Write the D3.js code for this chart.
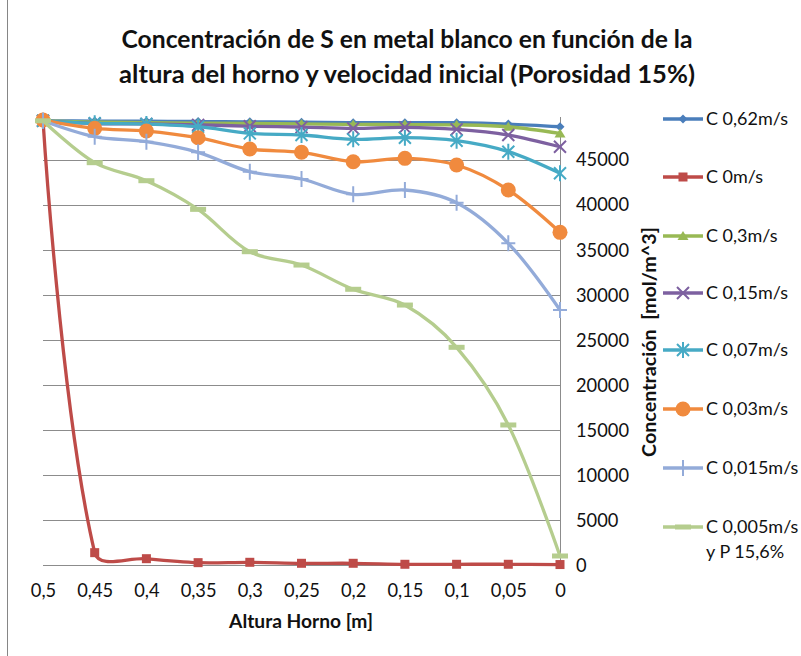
<!DOCTYPE html>
<html>
<head>
<meta charset="utf-8">
<script src="https://cdn.jsdelivr.net/npm/d3@7"></script>
<style>
  html, body { margin: 0; padding: 0; background: #fff; }
  svg { display: block; }
  text { font-family: Lato, "Open Sans", sans-serif; fill: #111; }
</style>
</head>
<body>
<svg id="chart" width="801" height="656"></svg>
<script>
// Heights along the furnace (category axis, left to right)
const heights = ["0,5", "0,45", "0,4", "0,35", "0,3", "0,25", "0,2", "0,15", "0,1", "0,05", "0"];

// Concentration of S [mol/m^3] for each initial velocity
const c062  = [49300, 49270, 49250, 49220, 49180, 49150, 49090, 49090, 49090, 48940, 48640];
const c0    = [49400, 1370, 700, 260, 300, 190, 190, 80, 80, 80, 50];
const c03   = [49300, 49150, 49100, 49050, 49000, 48950, 48900, 48880, 48850, 48640, 47900];
const c015  = [49300, 49000, 48950, 48850, 48700, 48600, 48460, 48570, 48350, 47720, 46420];
const c007  = [49300, 49020, 48940, 48640, 47900, 47720, 47240, 47420, 47090, 45870, 43470];
const c003  = [49380, 48460, 48160, 47420, 46170, 45800, 44760, 45130, 44390, 41620, 36920];
const c0015 = [49300, 47530, 46980, 45800, 43650, 42840, 41140, 41620, 40210, 35700, 28300];
const c0005 = [49300, 44650, 42650, 39470, 34770, 33290, 30600, 28850, 24160, 15540, 1000];

const seriesNames = ["C 0,62m/s", "C 0m/s", "C 0,3m/s", "C 0,15m/s", "C 0,07m/s", "C 0,03m/s", "C 0,015m/s", "C 0,005m/s\ny P 15,6%"];
const seriesValues = [c062, c0, c03, c015, c007, c003, c0015, c0005];
const seriesColors = ["#4A7EBB", "#BE4B48", "#98B954", "#7D60A0", "#46AAC5", "#F08A3E", "#93ABD9", "#B5CD8E"];
const seriesMarkers = ["diamond", "square", "triangle", "x", "asterisk", "circle", "plus", "dash"];

const yTicks = [0, 5000, 10000, 15000, 20000, 25000, 30000, 35000, 40000, 45000];

const titleLines = ["Concentración de S en metal blanco en función de la",
                    "altura del horno y velocidad inicial (Porosidad 15%)"];
const xTitle = "Altura Horno [m]";
const yTitle = "Concentración  [mol/m^3]";

const svg = d3.select("#chart");

// Scale a text element's font size so its rendered width equals `w`
function fitWidth(sel, w) {
  const node = sel.node();
  const fs = parseFloat(sel.attr("font-size"));
  const len = node.getComputedTextLength();
  sel.attr("font-size", (fs * w / len).toFixed(2));
}

// Outer frame (left edge of the chart area)
svg.append("line").attr("x1", 7.5).attr("x2", 7.5).attr("y1", 0).attr("y2", 656)
  .attr("stroke", "#868686").attr("stroke-width", 1);

const plot = { left: 43, right: 560, top: 117, bottom: 565 };

const x = d3.scalePoint().domain(heights).range([plot.left, plot.right]);
const y = d3.scaleLinear().domain([0, 49720]).range([plot.bottom, plot.top]);

// Gridlines
svg.append("g").selectAll("line").data(yTicks).join("line")
  .attr("x1", plot.left).attr("x2", plot.right)
  .attr("y1", d => Math.round(y(d)) + 0.5).attr("y2", d => Math.round(y(d)) + 0.5)
  .attr("stroke", "#8C8C8C").attr("stroke-width", 1);

// Right value axis line
svg.append("line").attr("x1", plot.right + 0.5).attr("x2", plot.right + 0.5)
  .attr("y1", plot.top).attr("y2", plot.bottom + 0.5)
  .attr("stroke", "#8C8C8C");

// Size of tick-label font, derived from the width of a reference label
const probe = svg.append("text").attr("font-size", 16).text("45000");
fitWidth(probe, 53);
const tickFs = +probe.attr("font-size");
probe.remove();

// Value axis labels (right side)
const yAxis = d3.axisRight(y).tickValues(yTicks).tickSize(0).tickPadding(0)
  .tickFormat(d3.format("d"));
const yg = svg.append("g").attr("transform", `translate(${plot.right + 16},0)`).call(yAxis);
yg.select(".domain").remove();
yg.selectAll("text").attr("font-size", tickFs).attr("fill", "#1a1a1a")
  .attr("font-family", "Lato, sans-serif").attr("dy", "0.35em");

// Category axis labels
const xAxis = d3.axisBottom(x).tickSize(0).tickPadding(0);
const xg = svg.append("g").attr("transform", `translate(0,${plot.bottom + 19})`).call(xAxis);
xg.select(".domain").remove();
xg.selectAll("text").attr("font-size", tickFs).attr("fill", "#1a1a1a")
  .attr("font-family", "Lato, sans-serif").attr("dy", "0.7em");

// Titles
titleLines.forEach((t, i) => {
  const el = svg.append("text").attr("x", 407).attr("y", 48 + i * 35).attr("text-anchor", "middle")
    .attr("font-weight", "bold").attr("font-size", 24).attr("fill", "#000").text(t);
  fitWidth(el, i === 0 ? 571 : 576);
});

const xt = svg.append("text").attr("x", 301).attr("y", 628).attr("text-anchor", "middle")
  .attr("font-weight", "bold").attr("font-size", 15).attr("fill", "#000").text(xTitle);
fitWidth(xt, 144);

const yt = svg.append("text").attr("transform", "translate(656,342) rotate(-90)")
  .attr("text-anchor", "middle").attr("font-weight", "bold").attr("font-size", 15)
  .attr("fill", "#000").style("white-space", "pre").text(yTitle);
fitWidth(yt, 230);

// Marker drawing
function drawMarker(g, type, color, cx, cy) {
  const m = g.append("g").attr("transform", `translate(${cx},${cy})`);
  switch (type) {
    case "diamond":
      m.append("path").attr("d", "M0,-4.5L4.5,0L0,4.5L-4.5,0Z").attr("fill", color);
      break;
    case "square":
      m.append("rect").attr("x", -4.5).attr("y", -4.5).attr("width", 9).attr("height", 9).attr("fill", color);
      break;
    case "triangle":
      m.append("path").attr("d", "M0,-5L5.5,4L-5.5,4Z").attr("fill", color);
      break;
    case "x":
      m.append("path").attr("d", "M-6,-6L6,6M-6,6L6,-6").attr("stroke", color).attr("stroke-width", 2).attr("fill", "none");
      break;
    case "asterisk":
      m.append("path").attr("d", "M-6,-6L6,6M-6,6L6,-6M0,-8L0,8").attr("stroke", color).attr("stroke-width", 2).attr("fill", "none");
      break;
    case "circle":
      m.append("circle").attr("r", 7.5).attr("fill", color);
      break;
    case "plus":
      m.append("path").attr("d", "M0,-8L0,8M-7,0L7,0").attr("stroke", color).attr("stroke-width", 2).attr("fill", "none");
      break;
    case "dash":
      m.append("rect").attr("x", -8).attr("y", -2.5).attr("width", 16).attr("height", 5).attr("fill", color);
      break;
  }
}

// Smoothed line: cubic Bezier segments whose control points follow the
// neighbour tangent, split in proportion to the adjacent segment lengths.
function smoothPath(pts, f = 1 / 3) {
  const n = pts.length;
  const dist = (a, b) => Math.hypot(b[0] - a[0], b[1] - a[1]);
  const cin = [], cout = [];
  for (let i = 0; i < n; i++) {
    if (i === 0 || i === n - 1) { cin[i] = pts[i]; cout[i] = pts[i]; continue; }
    const p0 = pts[i - 1], p1 = pts[i], p2 = pts[i + 1];
    const tx = p2[0] - p0[0], ty = p2[1] - p0[1];
    const tl = Math.hypot(tx, ty) || 1;
    const ux = tx / tl, uy = ty / tl;
    const d01 = dist(p0, p1), d12 = dist(p1, p2);
    cin[i] = [p1[0] - ux * d01 * f, p1[1] - uy * d01 * f];
    cout[i] = [p1[0] + ux * d12 * f, p1[1] + uy * d12 * f];
  }
  const p = d3.path();
  p.moveTo(pts[0][0], pts[0][1]);
  for (let i = 0; i < n - 1; i++) {
    p.bezierCurveTo(cout[i][0], cout[i][1], cin[i + 1][0], cin[i + 1][1], pts[i + 1][0], pts[i + 1][1]);
  }
  return p.toString();
}

// Series lines and markers
const seriesG = svg.append("g");
seriesValues.forEach((vals, s) => {
  const g = seriesG.append("g");
  const pts = vals.map((v, i) => [x(heights[i]), y(v)]);
  g.append("path").attr("d", smoothPath(pts))
    .attr("fill", "none").attr("stroke", seriesColors[s]).attr("stroke-width", 3.3)
    .attr("stroke-linejoin", "round").attr("stroke-linecap", "round");
  pts.forEach(pt => drawMarker(g, seriesMarkers[s], seriesColors[s], pt[0], pt[1]));
});

// Legend
const legendY = [119, 177, 236, 293, 350, 409, 468, 527];
const legend = svg.append("g");
seriesNames.forEach((name, s) => {
  const g = legend.append("g");
  g.append("line").attr("x1", 663).attr("x2", 703).attr("y1", legendY[s]).attr("y2", legendY[s])
    .attr("stroke", seriesColors[s]).attr("stroke-width", 3.3);
  drawMarker(g, seriesMarkers[s], seriesColors[s], 683, legendY[s]);
  const t = g.append("text").attr("x", 706).attr("font-size", 16).attr("fill", "#1a1a1a");
  name.split("\n").forEach((ln, k) =>
    t.append("tspan").attr("x", 706).attr("y", legendY[s] + 6 + k * 25).text(ln));
  if (s === 0) fitWidth(t, 82);
  else t.attr("font-size", legend.select("text").attr("font-size"));
});
</script>
</body>
</html>
